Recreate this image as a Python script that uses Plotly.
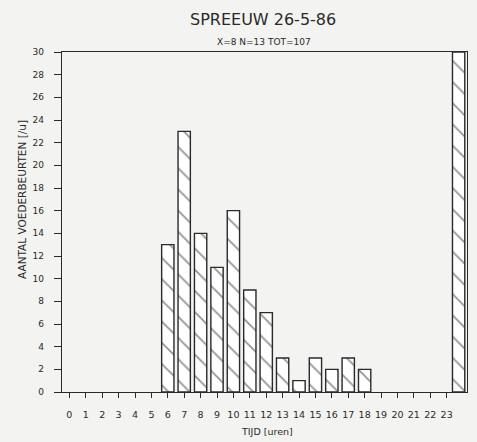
import plotly.graph_objects as go

hours = list(range(24))
hour_labels = [str(h) for h in hours]
bar_hours = [6, 7, 8, 9, 10, 11, 12, 13, 14, 15, 16, 17, 18, 23.73]
bar_values = [13, 23, 14, 11, 16, 9, 7, 3, 1, 3, 2, 3, 2, 30]
y_ticks = list(range(0, 31, 2))

title_text = "SPREEUW 26-5-86"
subtitle_text = "X=8 N=13 TOT=107"
x_title = "TIJD [uren]"
y_title = "AANTAL VOEDERBEURTEN [/u]"

paper = "#f3f3f1"
ink = "#2a2a2a"
font_family = "DejaVu Sans"

W, H = 477, 442
ML, MR, MT, MB = 62, 10, 52, 50
plot_h = H - MT - MB
plot_w = W - ML - MR

def py(pix_y):
    return (H - MB - pix_y) / plot_h

def px(pix_x):
    return (pix_x - ML) / plot_w

fig = go.Figure()
fig.add_trace(go.Bar(
    x=bar_hours, y=bar_values, width=0.75,
    marker=dict(color="white", line=dict(color=ink, width=1.4),
                pattern=dict(shape="\\", fgcolor=ink, bgcolor="white", size=15, solidity=0.12)),
    hoverinfo="skip",
))

def ann(text, x, y, size, angle=0):
    return dict(text=text, x=px(x), y=py(y), xref="paper", yref="paper", showarrow=False,
                xanchor="center", yanchor="middle", textangle=angle,
                font=dict(size=size, family=font_family, color=ink))

fig.update_layout(
    width=W, height=H,
    margin=dict(l=ML, r=MR, t=MT, b=MB, autoexpand=False),
    paper_bgcolor=paper, plot_bgcolor=paper,
    showlegend=False,
    font=dict(family=font_family, color=ink, size=9),
    annotations=[
        ann(title_text, 263, 20, 16),
        ann(subtitle_text, 264, 42, 9),
        ann(x_title, 267, 431, 9.5),
        ann(y_title, 22, 200, 10.5, -90),
    ],
)

fig.update_xaxes(
    range=[-0.45, 24.24], tickmode="array", tickvals=hours, ticktext=hour_labels,
    showline=True, linecolor=ink, linewidth=1.4, mirror=True,
    ticks="outside", ticklen=5, tickcolor=ink, tickwidth=1.2,
    ticklabelstandoff=8,
    showgrid=False, zeroline=False, tickfont=dict(size=9.5), automargin=False,
)
fig.update_yaxes(
    range=[0, 30], tickmode="array", tickvals=y_ticks,
    showline=True, linecolor=ink, linewidth=1.4, mirror=True,
    ticks="outside", ticklen=7, tickcolor=ink, tickwidth=1.2,
    ticklabelstandoff=8,
    showgrid=False, zeroline=False, tickfont=dict(size=9), automargin=False,
)

fig.write_html("out.html", config={"displayModeBar": False},
               post_script="document.body.style.margin='0';document.body.style.background='%s';" % paper)
